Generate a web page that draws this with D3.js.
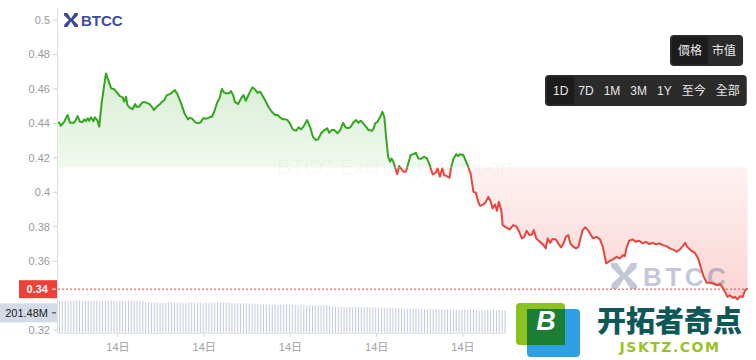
<!DOCTYPE html>
<html><head><meta charset="utf-8">
<script src="https://cdn.jsdelivr.net/npm/d3@7/dist/d3.min.js"></script>
<style>
html,body{margin:0;padding:0;background:#fff;}
svg{display:block;font-family:"Liberation Sans",Arial,"Noto Sans CJK SC",sans-serif;}
</style></head><body>
<svg id="c" width="756" height="360"></svg>
<script>
// ---- data (minutes since start of the 1D window, price) ----
const minutes = [1,6,13,20,25,32,35,41,46,51,55,58,62,65,69,74,77,82,86,91,100,106,111,117,122,129,135,138,142,145,150,156,161,164,169,176,183,191,196,200,206,213,216,222,227,234,239,244,250,257,264,271,275,280,286,292,298,303,310,316,321,326,332,337,342,346,352,357,361,366,
369,376,382,387,392,399,406,411,416,422,426,432,439,446,453,459,463,469,474,479,484,490,497,502,507,513,520,526,532,538,543,549,556,562,566,571,577,583,589,595,600,606,611,616,622,627,632,637,643,648,655,658,662,667,672,677,681,685,689,693,696,700,705,708,712,
721,726,731,736,742,747,752,758,764,770,775,782,789,792,797,802,806,811,817,820,825,831,835,839,846,851,856,861,867,872,877,881,888,893,898,903,907,912,916,920,925,928,935,943,950,956,961,968,973,978,984,989,993,998,1004,1012,1018,1022,1027,1032,1039,1044,1050,1055,1060,1065,1069,1074,1081,1086,1089,
1095,1100,1106,1112,1117,1124,1131,1137,1144,1151,1158,1166,1173,1179,1183,1187,1192,1199,1206,1213,1220,1227,1234,1241,1248,1255,1262,1270,1277,1286,1291,1298,1304,1309,1313,1320,1329,1336,1341,1347,1354,1361,1368,1375,1382,1387,1392,1397,1402,1408,1413,1418,1423,1429,1434,1439];
const prices = [0.4409,0.4386,0.4409,0.4448,0.4403,0.4403,0.4409,0.4442,0.4409,0.4407,0.4423,0.4413,0.4429,0.4415,0.4435,0.4413,0.4435,0.4419,0.4380,0.4516,0.4690,0.4642,0.4603,0.4599,0.4583,0.4558,0.4551,0.4525,0.4554,0.4506,0.4490,0.4483,0.4512,0.4496,0.4496,0.4522,0.4522,0.4512,0.4496,0.4477,0.4496,0.4512,0.4522,0.4535,0.4564,0.4570,0.4582,0.4593,0.4564,0.4516,0.4458,0.4423,0.4432,0.4427,0.4407,0.4400,0.4407,0.4429,0.4427,0.4435,0.4438,0.4467,0.4519,0.4545,0.4599,0.4580,0.4574,0.4574,0.4587,0.4560,
0.4525,0.4512,0.4545,0.4564,0.4531,0.4574,0.4609,0.4597,0.4578,0.4583,0.4564,0.4535,0.4496,0.4467,0.4448,0.4448,0.4435,0.4423,0.4423,0.4419,0.4400,0.4365,0.4357,0.4377,0.4365,0.4384,0.4419,0.4380,0.4322,0.4303,0.4307,0.4342,0.4361,0.4371,0.4345,0.4361,0.4361,0.4342,0.4361,0.4403,0.4377,0.4371,0.4380,0.4403,0.4419,0.4403,0.4415,0.4400,0.4380,0.4361,0.4357,0.4365,0.4400,0.4409,0.4435,0.4467,0.4438,0.4313,0.4206,0.4177,0.4196,0.4177,0.4129,0.4105,0.4152,
0.4119,0.4119,0.4167,0.4216,0.4221,0.4229,0.4196,0.4194,0.4206,0.4196,0.4163,0.4103,0.4115,0.4138,0.4090,0.4138,0.4099,0.4094,0.4084,0.4138,0.4191,0.4221,0.4210,0.4221,0.4216,0.4182,0.4148,0.4109,0.4002,0.3997,0.3944,0.3921,0.3929,0.3944,0.3973,0.3948,0.3906,0.3929,0.3892,0.3944,0.3896,0.3809,0.3796,0.3784,0.3809,0.3803,0.3780,0.3732,0.3741,0.3776,0.3751,0.3755,0.3780,0.3732,0.3716,0.3697,0.3674,0.3732,0.3706,0.3728,0.3726,0.3703,0.3679,0.3703,0.3741,0.3751,0.3703,0.3687,0.3674,0.3683,0.3718,
0.3780,0.3796,0.3780,0.3751,0.3732,0.3741,0.3726,0.3683,0.3586,0.3600,0.3610,0.3625,0.3616,0.3635,0.3629,0.3683,0.3718,0.3726,0.3712,0.3718,0.3703,0.3712,0.3699,0.3706,0.3697,0.3703,0.3693,0.3687,0.3674,0.3664,0.3654,0.3668,0.3687,0.3706,0.3683,0.3664,0.3648,0.3616,0.3567,0.3513,0.3474,0.3474,0.3470,0.3460,0.3466,0.3447,0.3421,0.3392,0.3402,0.3387,0.3392,0.3377,0.3396,0.3392,0.3431,0.3441];
// volume per 6-minute bar, in millions (visible part)
const volumes = [322,318,324,320,321,319,323,320,318,322,321,320,324,319,321,322,318,320,323,321,319,322,320,318,321,323,320,319,322,320,
302,305,300,303,304,301,303,300,305,302,303,301,304,302,300,303,305,301,302,304,300,303,301,302,304,303,300,302,305,301,298,296,299,297,295,298,296,294,297,295,
282,285,280,283,281,284,279,282,280,283,278,281,279,276,280,277,275,278,276,274,277,275,273,276,274,
262,265,260,263,261,258,262,259,257,260,258,256,259,255,257,254,256,253,255,252,254,251,253,250,252,
242,245,240,243,241,238,242,239,237,240,236,239,235,238,234,237,233,236,232,235,231,234,230,233,229,232,228,231,227,230,226,229,225,228,224,226];
const volumeStep = 6;
const baselinePrice = 0.4143;
const currentPrice = 0.3437;
const currentLabel = "0.34";
const volumeLabel = "201.48M";
const volumeLabelValue = 201.48;
const yTicks = [0.32,0.34,0.36,0.38,0.40,0.42,0.44,0.46,0.48,0.50];
const xTickMinutes = [125,305,485,665,845];
const xTickLabels = ["14日","14日","14日","14日","14日"];
const modeButtons = ["價格","市值"];
const rangeButtons = ["1D","7D","1M","3M","1Y","至今","全部"];

const data = minutes.map((t,i)=>({t, p: prices[i]}));
const svg = d3.select("#c");
const L = 58, R = 748;
const x = d3.scaleLinear().domain([0,1440]).range([L,R]);
const y = d3.scaleLinear().domain([0.32,0.5]).range([330,20]);
const v = d3.scaleLinear().domain([0,330]).range([333,300]);
const by = y(baselinePrice);
const GREEN = "#32a61d", RED = "#e8453c";

const defs = svg.append("defs");
defs.append("clipPath").attr("id","above").append("rect").attr("x",0).attr("y",0).attr("width",756).attr("height",by);
defs.append("clipPath").attr("id","below").append("rect").attr("x",0).attr("y",by).attr("width",756).attr("height",360-by);
const gg = defs.append("linearGradient").attr("id","gg").attr("gradientUnits","userSpaceOnUse").attr("x1",0).attr("x2",0).attr("y1",y(0.47)).attr("y2",by);
gg.append("stop").attr("offset",0).attr("stop-color",GREEN).attr("stop-opacity",0.2);
gg.append("stop").attr("offset",1).attr("stop-color",GREEN).attr("stop-opacity",0.07);
const rg = defs.append("linearGradient").attr("id","rg").attr("gradientUnits","userSpaceOnUse").attr("x1",0).attr("x2",0).attr("y1",by).attr("y2",y(0.337));
rg.append("stop").attr("offset",0).attr("stop-color","#f04a4a").attr("stop-opacity",0.07);
rg.append("stop").attr("offset",1).attr("stop-color","#f04a4a").attr("stop-opacity",0.24);

// watermark
svg.append("text").attr("x",277).attr("y",174).attr("font-size",21).attr("fill","rgba(0,0,0,0.035)").text("BTCC Exchange Support");

// areas
const area = d3.area().x(d=>x(d.t)).y0(by).y1(d=>y(d.p));
svg.append("path").datum(data).attr("d",area).attr("fill","url(#gg)").attr("clip-path","url(#above)");
svg.append("path").datum(data).attr("d",area).attr("fill","url(#rg)").attr("clip-path","url(#below)");

// BTCC watermark bottom right
const wm = svg.append("g").attr("opacity",0.27);
function btccIcon(g, cx, cy, s, col){
  const h = s/2, w = s*0.17;
  g.append("path").attr("d",`M${cx-h},${cy-h} L${cx-h+w*1.4},${cy-h} L${cx},${cy-w*0.6} L${cx+h-w*1.4},${cy-h} L${cx+h},${cy-h} L${cx+h-w*0.2},${cy-h+w*1.2} L${cx+w*0.9},${cy} L${cx+h},${cy+h-w*0.9} L${cx+h},${cy+h} L${cx+h-w*1.4},${cy+h} L${cx},${cy+w*0.6} L${cx-h+w*1.4},${cy+h} L${cx-h},${cy+h} L${cx-h+w*0.2},${cy+h-w*1.2} L${cx-w*0.9},${cy} L${cx-h},${cy-h+w*0.9} Z`).attr("fill",col);
  g.append("rect").attr("x",cx-w*0.55).attr("y",cy-w*0.55).attr("width",w*1.1).attr("height",w*1.1).attr("transform",`rotate(45 ${cx} ${cy})`).attr("fill",col);
}
btccIcon(wm, 624, 276, 26, "#2a3370");
wm.append("text").attr("x",643).attr("y",286).attr("font-size",26).attr("font-weight",700).attr("letter-spacing",3.5).attr("fill","#2a3370").text("BTCC");

// volume bars
svg.append("g").selectAll("rect").data(volumes).join("rect")
  .attr("x",(d,i)=>x(i*volumeStep+3)-0.5).attr("width",1)
  .attr("y",d=>v(d)).attr("height",d=>v(0)-v(d)).attr("fill","#c3c9dc");

// lines
const line = d3.line().x(d=>x(d.t)).y(d=>y(d.p));
svg.append("path").datum(data).attr("d",line).attr("fill","none").attr("stroke",GREEN).attr("stroke-width",2).attr("stroke-linejoin","round").attr("clip-path","url(#above)");
svg.append("path").datum(data).attr("d",line).attr("fill","none").attr("stroke",RED).attr("stroke-width",2).attr("stroke-linejoin","round").attr("clip-path","url(#below)");

// current price dashed line
svg.append("line").attr("x1",L).attr("x2",R).attr("y1",y(currentPrice)).attr("y2",y(currentPrice)).attr("stroke",RED).attr("stroke-width",1).attr("stroke-dasharray","2,2");

// y axis
const cy = y(currentPrice);
svg.append("line").attr("x1",57.5).attr("x2",57.5).attr("y1",8).attr("y2",333).attr("stroke","#dedede");
const yg = svg.append("g");
yTicks.forEach(t=>{
  yg.append("line").attr("x1",53).attr("x2",57).attr("y1",y(t)).attr("y2",y(t)).attr("stroke","#d0d0d0");
  // the axis label hidden behind the current-price tag is not drawn
  if (Math.abs(y(t) - cy) < 14) return;
  yg.append("text").attr("x",50).attr("y",y(t)+4).attr("text-anchor","end").attr("font-size",11).attr("fill","#999").text(d3.format("~g")(t));
});
// x axis
svg.append("line").attr("x1",L).attr("x2",R).attr("y1",333.5).attr("y2",333.5).attr("stroke","#e6e6e6");
xTickMinutes.forEach((t,i)=>{
  svg.append("line").attr("x1",x(t)).attr("x2",x(t)).attr("y1",333).attr("y2",337).attr("stroke","#d8d8d8");
  svg.append("text").attr("x",x(t)).attr("y",351).attr("text-anchor","middle").attr("font-size",11).attr("fill","#a0a0a0").text(xTickLabels[i]);
});

// current price label
svg.append("rect").attr("x",19).attr("y",cy-9).attr("width",38).attr("height",18).attr("fill","#ee4036");
svg.append("text").attr("x",48).attr("y",cy+4).attr("text-anchor","end").attr("font-size",11).attr("font-weight",700).attr("fill","#fff").text(currentLabel);
svg.append("line").attr("x1",52).attr("x2",56).attr("y1",cy).attr("y2",cy).attr("stroke","#fff");
// volume label
const vy = v(volumeLabelValue);
svg.append("rect").attr("x",0).attr("y",vy-9.5).attr("width",57).attr("height",19).attr("fill","#d5dae7");
svg.append("text").attr("x",48).attr("y",vy+4).attr("text-anchor","end").attr("font-size",11).attr("fill","#222").text(volumeLabel);
svg.append("line").attr("x1",52).attr("x2",56).attr("y1",vy).attr("y2",vy).attr("stroke","#333");

// top-left BTCC logo
const lg = svg.append("g");
btccIcon(lg, 71, 20, 14, "#3b4a9c");
lg.append("text").attr("x",81).attr("y",26).attr("font-size",15).attr("font-weight",700).attr("fill","#3b4a9c").text("BTCC");

// buttons
function buttonRow(labels, x0, yTop, h, activeIdx){
  const g = svg.append("g");
  const bg = g.append("rect").attr("y",yTop).attr("height",h).attr("rx",4).attr("fill","#2b2b2b");
  const act = g.append("rect").attr("y",yTop+1.5).attr("height",h-3).attr("rx",3).attr("fill","#1c1c1c");
  let cx = x0;
  const boxes = [];
  labels.forEach((l,i)=>{
    const t = g.append("text").attr("x",cx).attr("y",yTop+h/2+4.5).attr("font-size",12)
      .attr("font-family",'"Liberation Sans",Arial,"Noto Sans CJK TC",sans-serif').attr("fill","#e8e8e8").text(l);
    const w = t.node().getComputedTextLength();
    boxes.push([cx,w]);
    cx += w + 10;
  });
  const end = cx - 10;
  bg.attr("x",x0-8).attr("width",end - x0 + 15);
  const [ax,aw] = boxes[activeIdx];
  act.attr("x",ax-6).attr("width",aw+12);
  act.lower(); bg.lower();
}
buttonRow(modeButtons, 678, 35, 31, 0);
buttonRow(rangeButtons, 553, 75, 31, 0);

// site logo overlay (bottom right)
const sl = svg.append("g");
sl.append("rect").attr("x",506).attr("y",300.5).attr("width",250).attr("height",60).attr("fill","#fff");
sl.append("rect").attr("x",527).attr("y",309).attr("width",53).attr("height",48).attr("rx",4).attr("fill","#2e9fe3");
sl.append("rect").attr("x",516).attr("y",303).attr("width",49).attr("height",42).attr("rx",4).attr("fill","#8cc21f");
sl.append("rect").attr("x",527).attr("y",309).attr("width",38).attr("height",36).attr("fill","#1c7d34");
sl.append("text").attr("x",546).attr("y",330).attr("text-anchor","middle").attr("font-size",27).attr("font-weight",700).attr("font-style","italic").attr("fill","#fff").text("B");
sl.append("text").attr("x",597).attr("y",332).attr("font-size",29).attr("font-weight",900)
  .attr("font-family",'"Noto Sans CJK SC",sans-serif').attr("fill","#0f5858").text("开拓者奇点");
sl.append("text").attr("x",670).attr("y",352).attr("text-anchor","middle").attr("font-size",14).attr("font-weight",700)
  .attr("font-family",'"DejaVu Sans",sans-serif').attr("fill","#9bc31f").attr("letter-spacing",1.5).text("JSKTZ.COM");
</script>
</body></html>
